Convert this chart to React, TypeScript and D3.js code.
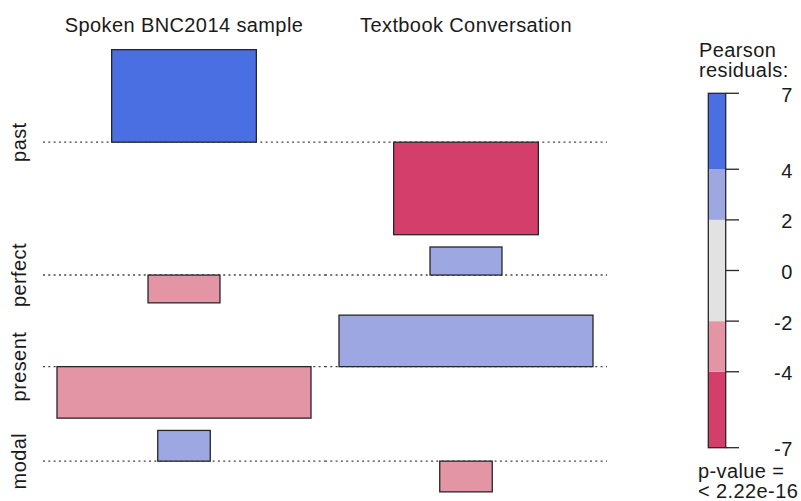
import React from "react";
import * as d3 from "d3";

// ---- data ----
const rowLabels = ["past", "perfect", "present", "modal"];
const colLabels = ["Spoken BNC2014 sample", "Textbook Conversation"];
// expected counts (same in both columns) -> widths ∝ sqrt(expected)
const expectedSpoken = [2094, 518, 6452, 276];
const expectedTextbook = [2094, 518, 6452, 276];
// Pearson residuals -> heights
const residualSpoken = [6.99, -2.1, -3.89, 2.32];
const residualTextbook = [-6.99, 2.12, 3.89, -2.32];
// legend
const legendBreaks = [-7, -4, -2, 2, 4, 7];
const legendColors = ["#D33F6A", "#E495A5", "#E2E2E2", "#9DA8E2", "#4A6FE3"];
const legendTicks = [-7, -4, -2, 0, 2, 4, 7];
const legendTitle = ["Pearson", "residuals:"];
const pValueText = ["p-value =", "< 2.22e-16"];

const FONT = "'Liberation Sans', Arial, Helvetica, sans-serif";
const FS = 20;
const LS = 0.4;

function fillFor(r: number) {
  if (Math.abs(r) < 2) return legendColors[2];
  for (let i = 0; i < legendColors.length; i++) {
    if (r >= legendBreaks[i] && r <= legendBreaks[i + 1]) return legendColors[i];
  }
  return r > 0 ? legendColors[4] : legendColors[0];
}

export default function App() {
  const W = 801, H = 501;
  const expected = [expectedSpoken, expectedTextbook];
  const residuals = [residualSpoken, residualTextbook];

  // horizontal layout
  const plotX0 = 43, plotX1 = 607, gapX = 28;
  const colMax = expected.map((col) => d3.max(col, (e) => Math.sqrt(e)) as number);
  const totalSqrt = d3.sum(colMax);
  const wScale = d3.scaleLinear().domain([0, totalSqrt]).range([0, plotX1 - plotX0 - gapX * colMax.length]);
  const colStarts: number[] = [];
  let cx = plotX0;
  colMax.forEach((m) => { colStarts.push(cx); cx += wScale(m) + gapX; });
  const colWidths = colMax.map((m) => wScale(m) + gapX);
  const colCenters = colStarts.map((s, j) => s + colWidths[j] / 2);

  // vertical layout
  const plotY0 = 43.5, plotY1 = 498, gapY = 12.3;
  const rowPos = rowLabels.map((_, i) => d3.max(residuals, (c) => Math.max(0, c[i])) as number);
  const rowNeg = rowLabels.map((_, i) => d3.max(residuals, (c) => Math.max(0, -c[i])) as number);
  const totalRes = d3.sum(rowPos) + d3.sum(rowNeg);
  const hScale = d3.scaleLinear().domain([0, totalRes]).range([0, plotY1 - plotY0 - gapY * rowLabels.length]);
  const baselines: number[] = [];
  let cy = plotY0;
  rowLabels.forEach((_, i) => {
    baselines.push(cy + gapY / 2 + hScale(rowPos[i]));
    cy += hScale(rowPos[i] + rowNeg[i]) + gapY;
  });

  // legend
  const lx0 = 708.3, lx1 = 725.7;
  const lScale = d3.scaleLinear().domain([-7, 7]).range([447.7, 93.3]);

  return (
    <svg width={W} height={H} style={{ position: "absolute", left: 0, top: 0, background: "#fff" }}
      fontFamily={FONT}>
      <rect x={0} y={0} width={W} height={H} fill="#fff" />
      {/* column labels */}
      {colLabels.map((c, j) => (
        <text key={c} x={colCenters[j]} y={31.7} textAnchor="middle" fontSize={FS}
          letterSpacing={LS} fill="#1a1a1a">{c}</text>
      ))}
      {/* row labels */}
      {rowLabels.map((r, i) => (
        <text key={r} transform={`translate(25.5,${baselines[i]}) rotate(-90)`} textAnchor="middle"
          fontSize={FS} letterSpacing={LS} fill="#1a1a1a">{r}</text>
      ))}
      {/* baselines */}
      {rowLabels.map((r, i) =>
        colLabels.map((c, j) => (
          <line key={r + c} x1={colStarts[j]} x2={colStarts[j] + colWidths[j]} y1={baselines[i]} y2={baselines[i]}
            stroke="#444" strokeWidth={1.4} strokeDasharray="2,3.3" />
        ))
      )}
      {/* cells */}
      {rowLabels.map((r, i) =>
        colLabels.map((c, j) => {
          const res = residuals[j][i];
          const w = wScale(Math.sqrt(expected[j][i]));
          const h = hScale(Math.abs(res));
          const y = res > 0 ? baselines[i] - h : baselines[i];
          return (
            <rect key={"c" + r + c} x={colCenters[j] - w / 2} y={y} width={w} height={h}
              fill={fillFor(res)} stroke="#262626" strokeWidth={1.3} />
          );
        })
      )}
      {/* legend */}
      {legendColors.map((col, k) => (
        <rect key={col} x={lx0} width={lx1 - lx0} y={lScale(legendBreaks[k + 1])}
          height={lScale(legendBreaks[k]) - lScale(legendBreaks[k + 1])} fill={col} />
      ))}
      <rect x={lx0} y={lScale(7)} width={lx1 - lx0} height={lScale(-7) - lScale(7)} fill="none"
        stroke="#262626" strokeWidth={1.3} />
      {legendTicks.map((t) => (
        <g key={t}>
          <line x1={lx1} x2={739} y1={lScale(t)} y2={lScale(t)} stroke="#262626" strokeWidth={1.3} />
          <text x={792.7} y={lScale(t) + 8.5} textAnchor="end" fontSize={FS} letterSpacing={LS}
            fill="#1a1a1a">{t}</text>
        </g>
      ))}
      {legendTitle.map((t, k) => (
        <text key={t} x={699} y={56.7 + k * 20} fontSize={FS} letterSpacing={LS} fill="#1a1a1a">{t}</text>
      ))}
      {pValueText.map((t, k) => (
        <text key={t} x={698} y={477.5 + k * 20} fontSize={FS} letterSpacing={LS} fill="#1a1a1a">{t}</text>
      ))}
    </svg>
  );
}
